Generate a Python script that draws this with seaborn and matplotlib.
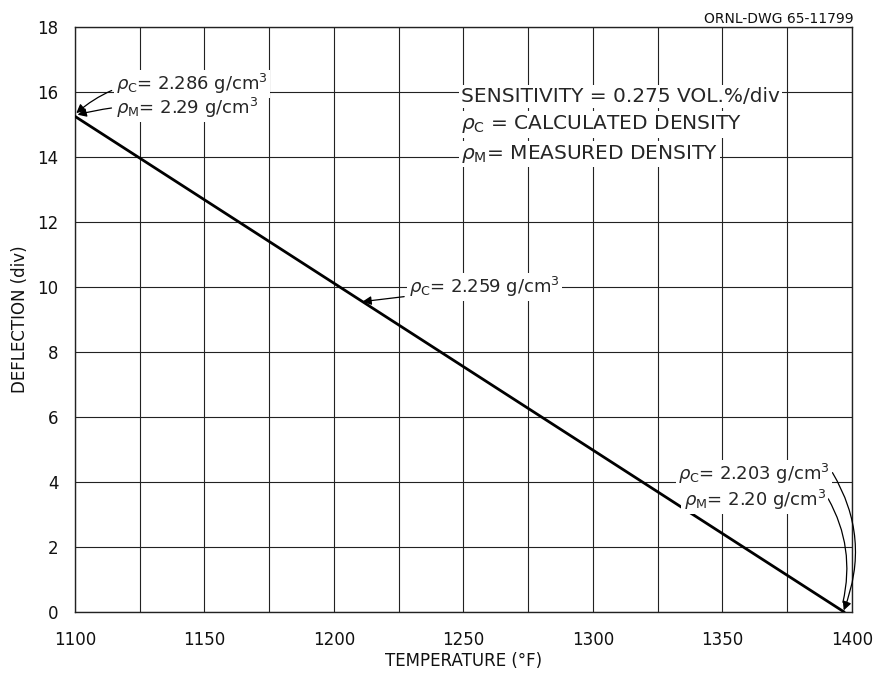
import matplotlib
matplotlib.use("Agg")
import matplotlib.pyplot as plt
import seaborn as sns
import pandas as pd

# data
temperature_F = [1100, 1397]
deflection_div = [15.25, 0.0]
x_ticks = [1100, 1150, 1200, 1250, 1300, 1350, 1400]
y_ticks = [0, 2, 4, 6, 8, 10, 12, 14, 16, 18]

sns.set_style("white")
plt.rcParams['font.family'] = ['DejaVu Sans']
plt.rcParams['mathtext.fontset'] = 'dejavusans'

df = pd.DataFrame({"T": temperature_F, "D": deflection_div})

fig = plt.figure(figsize=(8.76, 6.78), dpi=100)
ax = fig.add_axes([0.0856, 0.0973, 0.8870, 0.8629])
sns.lineplot(data=df, x="T", y="D", ax=ax, color="black", linewidth=2.0, zorder=3)

ax.set_xlim(1100, 1400)
ax.set_ylim(0, 18)
ax.set_xticks(x_ticks)
ax.set_xticks(list(range(1125, 1400, 50)), minor=True)
ax.set_yticks(y_ticks)
ax.grid(True, which="both", color="#222222", linewidth=0.8)
ax.tick_params(axis="both", which="both", length=0, labelsize=12, colors="#111111")
ax.tick_params(axis="x", pad=14)
ax.tick_params(axis="y", pad=12)
for s in ax.spines.values():
    s.set_color("#222222")
    s.set_linewidth(1.0)

ax.set_xlabel("TEMPERATURE (°F)", fontsize=12, labelpad=2, color="#111111")
ax.set_ylabel("DEFLECTION (div)", fontsize=12, labelpad=6, color="#111111")

fig.text(0.974, 0.972, "ORNL-DWG 65-11799", ha="right", va="center", fontsize=10, color="#111111")

bb = dict(facecolor="white", edgecolor="none", pad=1.5)
fs = 13
fs2 = 14.5

# top-left annotations
ax.annotate(r"$\rho_{\rm C}$= 2.286 g/cm$^3$", xy=(1100.5, 15.35), xytext=(1116, 16.25),
            fontsize=fs, ha="left", va="center", bbox=bb, zorder=5,
            arrowprops=dict(arrowstyle="-|>", color="black", lw=0.9,
                            connectionstyle="arc3,rad=0.25", shrinkA=2, shrinkB=0))
ax.annotate(r"$\rho_{\rm M}$= 2.29 g/cm$^3$", xy=(1101, 15.3), xytext=(1116, 15.5),
            fontsize=fs, ha="left", va="center", bbox=bb, zorder=5,
            arrowprops=dict(arrowstyle="-|>", color="black", lw=0.9,
                            connectionstyle="arc3,rad=0.1", shrinkA=2, shrinkB=0))

# legend-like text block
ax.text(1249, 15.85, "SENSITIVITY = 0.275 VOL.%/div", fontsize=fs2, ha="left", va="center",
        bbox=bb, zorder=5)
ax.text(1249, 15.0, r"$\rho_{\rm C}$ = CALCULATED DENSITY", fontsize=fs2, ha="left", va="center",
        bbox=bb, zorder=5)
ax.text(1249, 14.1, r"$\rho_{\rm M}$= MEASURED DENSITY", fontsize=fs2, ha="left", va="center",
        bbox=bb, zorder=5)

# mid annotation
ax.annotate(r"$\rho_{\rm C}$= 2.259 g/cm$^3$", xy=(1211, 9.55), xytext=(1229, 10.0),
            fontsize=fs, ha="left", va="center", bbox=bb, zorder=5,
            arrowprops=dict(arrowstyle="-|>", color="black", lw=0.9, shrinkA=2, shrinkB=0))

# bottom-right annotations
ax.annotate(r"$\rho_{\rm C}$= 2.203 g/cm$^3$", xy=(1396.8, 0.05), xytext=(1333, 4.25),
            fontsize=fs, ha="left", va="center", bbox=bb, zorder=5,
            arrowprops=dict(arrowstyle="-|>", color="black", lw=0.9,
                            connectionstyle="arc3,rad=-0.25", shrinkA=0, shrinkB=0,
                            relpos=(1.0, 0.7)))
ax.annotate(r"$\rho_{\rm M}$= 2.20 g/cm$^3$", xy=(1396.5, 0.3), xytext=(1335, 3.45),
            fontsize=fs, ha="left", va="center", bbox=bb, zorder=5,
            arrowprops=dict(arrowstyle="-", color="black", lw=0.9,
                            connectionstyle="arc3,rad=-0.2", shrinkA=0, shrinkB=0,
                            relpos=(1.0, 0.7)))

fig.savefig("out.png", dpi=100)
